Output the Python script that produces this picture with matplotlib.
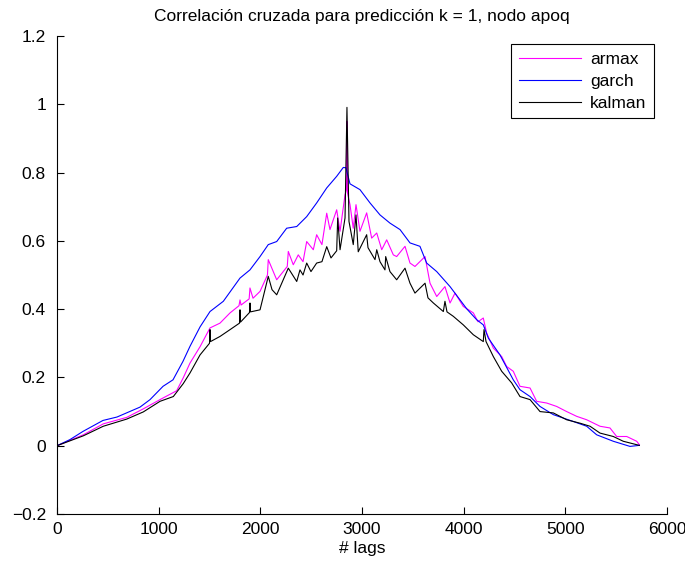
import matplotlib
matplotlib.use("Agg")
import matplotlib.pyplot as plt

plt.rcParams['font.family'] = ['Liberation Sans', 'DejaVu Sans']

# ---- data (lag, value) ----
garch_lag = [0, 128, 256, 452, 590, 816, 915, 1043, 1141, 1239, 1308, 1407, 1505, 1636,
             1800, 1898, 1997, 2078, 2161, 2259, 2358, 2456, 2554, 2653, 2751, 2816, 2843,
             2852, 2882, 2980, 3079, 3177, 3275, 3374, 3472, 3570, 3636, 3735, 3866, 4030,
             4128, 4193, 4243, 4357, 4488, 4554, 4653, 4751, 4882, 5078, 5210, 5308, 5472,
             5636, 5728]
garch_val = [0.0, 0.018, 0.042, 0.074, 0.084, 0.113, 0.135, 0.174, 0.193, 0.247, 0.291, 0.348,
             0.393, 0.423, 0.491, 0.515, 0.554, 0.589, 0.598, 0.637, 0.642, 0.671, 0.711, 0.755,
             0.789, 0.815, 0.814, 0.802, 0.767, 0.750, 0.711, 0.676, 0.652, 0.633, 0.594, 0.584,
             0.535, 0.510, 0.466, 0.401, 0.369, 0.354, 0.315, 0.266, 0.193, 0.164, 0.144, 0.115,
             0.091, 0.071, 0.057, 0.032, 0.013, -0.002, 0.001]

armax_lag = [0, 259, 455, 686, 849, 1013, 1177, 1242, 1308, 1407, 1505, 1603, 1702, 1790,
             1800, 1810, 1890, 1898, 1928, 1997, 2070, 2078, 2161, 2265, 2275, 2324, 2373,
             2420, 2456, 2521, 2554, 2606, 2653, 2685, 2751, 2784, 2833, 2847, 2852, 2857,
             2882, 2914, 2941, 2980, 3046, 3095, 3145, 3194, 3243, 3308, 3341, 3423, 3472,
             3521, 3620, 3669, 3735, 3816, 3866, 3915, 3996, 4095, 4141, 4193, 4226, 4292,
             4374, 4423, 4488, 4554, 4653, 4718, 4817, 4915, 5013, 5112, 5210, 5341, 5439,
             5505, 5604, 5702, 5728]
armax_val = [0.0, 0.032, 0.064, 0.083, 0.108, 0.135, 0.161, 0.199, 0.242, 0.290, 0.345, 0.359,
             0.389, 0.410, 0.427, 0.412, 0.430, 0.462, 0.432, 0.452, 0.500, 0.545, 0.486, 0.525,
             0.569, 0.530, 0.559, 0.539, 0.598, 0.574, 0.618, 0.589, 0.681, 0.633, 0.691, 0.628,
             0.735, 0.750, 0.950, 0.740, 0.706, 0.637, 0.706, 0.628, 0.682, 0.608, 0.623, 0.574,
             0.603, 0.559, 0.554, 0.584, 0.535, 0.525, 0.554, 0.476, 0.437, 0.466, 0.418, 0.447,
             0.408, 0.389, 0.363, 0.374, 0.330, 0.286, 0.261, 0.232, 0.218, 0.174, 0.169, 0.130,
             0.125, 0.115, 0.100, 0.086, 0.076, 0.057, 0.052, 0.027, 0.027, 0.013, 0.003]

kalman_lag = [0, 259, 455, 686, 849, 1013, 1144, 1242, 1308, 1407, 1500, 1505, 1510, 1603,
              1702, 1795, 1800, 1805, 1893, 1898, 1903, 1997, 2078, 2115, 2161, 2275, 2358,
              2390, 2420, 2456, 2498, 2554, 2606, 2653, 2695, 2751, 2761, 2784, 2833, 2852,
              2872, 2914, 2941, 2963, 3046, 3059, 3128, 3145, 3177, 3226, 3233, 3275, 3341,
              3423, 3472, 3521, 3620, 3649, 3702, 3800, 3816, 3836, 3898, 3996, 4095, 4193,
              4200, 4220, 4292, 4374, 4472, 4554, 4653, 4751, 4882, 5013, 5144, 5243, 5341,
              5472, 5570, 5728]
kalman_val = [0.0, 0.029, 0.057, 0.078, 0.099, 0.130, 0.144, 0.182, 0.213, 0.266, 0.300, 0.340,
              0.305, 0.320, 0.340, 0.359, 0.398, 0.362, 0.390, 0.418, 0.392, 0.398, 0.496, 0.457,
              0.442, 0.520, 0.481, 0.515, 0.500, 0.535, 0.510, 0.535, 0.539, 0.583, 0.550, 0.571,
              0.667, 0.574, 0.667, 0.991, 0.657, 0.589, 0.676, 0.568, 0.618, 0.580, 0.545, 0.574,
              0.539, 0.515, 0.554, 0.510, 0.486, 0.520, 0.476, 0.447, 0.476, 0.433, 0.418, 0.393,
              0.423, 0.392, 0.379, 0.354, 0.325, 0.305, 0.340, 0.305, 0.261, 0.218, 0.184, 0.144,
              0.135, 0.100, 0.096, 0.076, 0.066, 0.057, 0.037, 0.027, 0.013, 0.001]

title = "Correlación cruzada para predicción k = 1, nodo apoq"
xlabel = "# lags"
xticks = [0, 1000, 2000, 3000, 4000, 5000, 6000]
yticks = [-0.2, 0, 0.2, 0.4, 0.6, 0.8, 1.0, 1.2]
ytick_labels = ["\u22120.2", "0", "0.2", "0.4", "0.6", "0.8", "1", "1.2"]

fig = plt.figure(figsize=(6.85, 5.65), dpi=100)
ax = fig.add_axes([57/685, 1 - 514/565, 610/685, 478/565])

ax.plot(armax_lag, armax_val, color='#FF00FF', lw=0.8, label='armax')
ax.plot(garch_lag, garch_val, color='#0000FF', lw=0.8, label='garch')
ax.plot(kalman_lag, kalman_val, color='black', lw=0.8, label='kalman')

ax.set_xlim(0, 6000)
ax.set_ylim(-0.2, 1.2)
ax.set_xticks(xticks)
ax.set_xticklabels([str(t) for t in xticks])
ax.set_yticks(yticks)
ax.set_yticklabels(ytick_labels)
ax.spines['top'].set_visible(False)
ax.spines['right'].set_visible(False)
ax.tick_params(direction='in', length=5, width=0.8, labelsize=12.5)
ax.tick_params(axis='x', pad=6)
ax.tick_params(axis='y', pad=8)
for s in ['left', 'bottom']:
    ax.spines[s].set_linewidth(0.8)

ax.set_title(title, fontsize=12.5, pad=11)
ax.set_xlabel(xlabel, fontsize=12.5, labelpad=3)

leg = ax.legend(loc='upper right', bbox_to_anchor=(0.979, 0.983), borderaxespad=0,
                fancybox=False, edgecolor='black', framealpha=1, fontsize=12.5,
                handlelength=3.6, handletextpad=0.5, borderpad=0.45, labelspacing=0.38)
leg.get_frame().set_linewidth(0.8)

fig.savefig('out.png', dpi=100)
